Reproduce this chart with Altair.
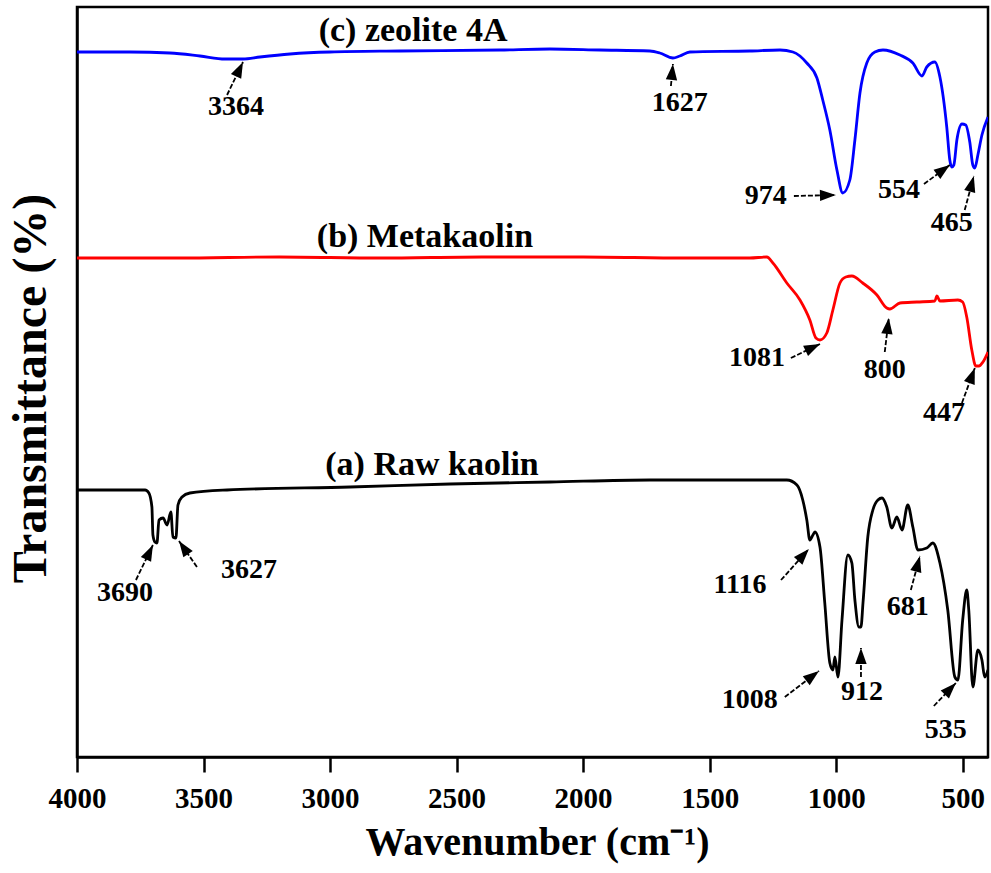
import math
import altair as alt
import pandas as pd

# ---- spectra (wavenumber cm-1, transmittance a.u.) ----
zeo_wn = [4000, 3791, 3633, 3514, 3415, 3344, 3277, 3158, 3000, 2724, 2329, 2131, 1934,
          1736, 1697, 1645, 1618, 1578, 1341, 1222, 1171, 1116, 1076, 1053, 1025, 997,
          974, 946, 926, 906, 879, 847, 815, 748, 697, 661, 642, 610, 590, 563, 551,
          543, 535, 523, 503, 488, 472, 460, 452, 440, 424, 400]
zeo_t = [705, 705, 704, 701, 698, 698, 700, 703, 705, 706, 707, 708, 707,
         706, 704, 699, 701, 705, 706, 707, 705, 694, 679, 657, 627, 587,
         564, 577, 617, 664, 694, 705, 707, 702, 694, 681, 690, 695, 680, 630, 597,
         590, 592, 617, 633, 632, 615, 592, 589, 602, 622, 640]

meta_wn = [4000, 3600, 3200, 2800, 2400, 2000, 1600, 1341, 1274, 1250, 1195, 1143, 1104,
           1080, 1064, 1037, 1013, 985, 962, 938, 895, 839, 800, 788, 748, 681, 610,
           602, 590, 519, 500, 484, 464, 448, 436, 420, 400]
meta_t = [499, 499, 500, 499, 500, 500, 499, 499, 500, 494, 474, 457, 437,
          419, 417, 424, 447, 474, 480, 481, 474, 462, 449, 448, 454, 455, 456,
          461, 456, 457, 455, 440, 407, 391, 391, 395, 405]

kao_wn = [4000, 3731, 3716, 3704, 3700, 3692, 3684, 3676, 3660, 3644, 3629, 3621, 3609,
          3601, 3585, 3554, 3407, 2921, 2526, 2131, 1736, 1195, 1155, 1132, 1116, 1104,
          1092, 1084, 1064, 1045, 1025, 1013, 1005, 993, 977, 954, 938, 926, 910, 902,
          894, 875, 855, 835, 819, 800, 780, 760, 740, 717, 697, 677, 642, 618, 590,
          559, 531, 519, 500, 484, 476, 460, 440, 424, 413, 400]
kao_t = [267, 267, 264, 250, 222, 215, 214, 237, 239, 232, 245, 220, 219,
         252, 260, 264, 267, 270, 273, 275, 277, 277, 272, 257, 237, 217,
         222, 225, 210, 154, 94, 87, 100, 80, 137, 202, 194, 157, 130, 130,
         154, 220, 247, 257, 259, 250, 229, 240, 227, 252, 230, 207, 209, 214, 194,
         147, 80, 77, 137, 167, 147, 70, 107, 97, 80, 87]

series_names = ["(c) zeolite 4A", "(b) Metakaolin", "(a) Raw kaolin"]
series_colors = ["#0000FF", "#FF0000", "#000000"]
label_wn = [2672, 2625, 2597]
label_t = [726, 520, 292]

# ---- peak annotations ----
peak_text = ["3364", "1627", "974", "554", "465", "1081", "800", "447",
             "3690", "3627", "1116", "1008", "912", "681", "535"]
text_wn = [3372, 1618, 1278, 752, 543, 1313, 808, 574, 3810, 3320, 1380, 1341, 898, 717, 567]
text_t = [650, 654, 561, 567, 534, 399, 387, 344, 164, 187, 172, 57, 65, 150, 27]
tail_wn = [3407, 1653, 1167, 653, 492, 1179, 808, 503, 3767, 3526, 1218, 1203, 902, 705, 614]
tail_t = [662, 671, 561, 573, 547, 399, 405, 354, 177, 190, 177, 60, 80, 167, 51]
tip_wn = [3344, 1645, 1001, 551, 456, 1064, 792, 452, 3700, 3597, 1108, 1068, 902, 669, 527]
tip_t = [695, 693, 562, 592, 581, 413, 439, 389, 212, 216, 208, 86, 109, 201, 74]

W, H = 911, 750
WN_MAX, WN_MIN = 4000, 400
T_MIN, T_MAX = 0, 750
FONT = "Liberation Serif"

rows = []
for name, wn, t in [(series_names[0], zeo_wn, zeo_t),
                    (series_names[1], meta_wn, meta_t),
                    (series_names[2], kao_wn, kao_t)]:
    for a, b in zip(wn, t):
        rows.append({"series": name, "wn": a, "t": b})
spec = pd.DataFrame(rows)

labels = pd.DataFrame({"name": series_names, "wn": label_wn, "t": label_t})

px_per_wn = W / (WN_MAX - WN_MIN)
px_per_t = H / (T_MAX - T_MIN)
angles = []
for tw, tt, pw, pt in zip(tail_wn, tail_t, tip_wn, tip_t):
    dx = (tw - pw) * px_per_wn
    dy = -(pt - tt) * px_per_t
    angles.append(math.degrees(math.atan2(dx, -dy)) % 360)

peaks = pd.DataFrame({"txt": peak_text, "wn": text_wn, "t": text_t,
                      "awn": tail_wn, "at": tail_t, "bwn": tip_wn, "bt": tip_t,
                      "ang": angles})

xscale = alt.Scale(domain=[WN_MAX, WN_MIN], nice=False, zero=False)
yscale = alt.Scale(domain=[T_MIN, T_MAX], nice=False, zero=False)

x_axis = alt.Axis(
    title="Wavenumber (cm⁻¹)", values=[4000, 3500, 3000, 2500, 2000, 1500, 1000, 500],
    format="d", grid=False, domainColor="black", domainWidth=2.5, tickColor="black",
    tickWidth=2.5, tickSize=15, labelFont=FONT, labelFontSize=29, labelFontWeight="bold",
    labelColor="black", labelPadding=12, labelFlush=False,
    titleFont=FONT, titleFontSize=40, titleFontWeight="bold", titleColor="black",
    titleX=460, titleY=85, titleBaseline="middle", titleAlign="center",
)
y_axis = alt.Axis(
    title="Transmittance (%)", labels=False, ticks=False, grid=False, domainColor="black",
    domainWidth=2.5, titleFont=FONT, titleFontSize=48, titleFontWeight="bold",
    titleColor="black", titleAngle=270, titleX=-46, titleY=381, titleBaseline="middle",
    titleAlign="center",
)


def X(field):
    return alt.X(field, type="quantitative", scale=xscale, axis=x_axis)


def Y(field):
    return alt.Y(field, type="quantitative", scale=yscale, axis=y_axis)


lines = alt.Chart(spec).mark_line(strokeWidth=2.8, clip=True, interpolate="monotone").encode(
    x=X("wn"),
    y=Y("t"),
    color=alt.Color("series:N", scale=alt.Scale(domain=series_names, range=series_colors),
                    legend=None),
    order=alt.Order("wn:Q", sort="descending"),
)

series_text = alt.Chart(labels).mark_text(
    font=FONT, fontSize=34, fontWeight="bold", color="black", align="center",
    baseline="middle").encode(
    x=X("wn"),
    y=Y("t"),
    text="name:N",
)

peak_labels = alt.Chart(peaks).mark_text(
    font=FONT, fontSize=28, fontWeight="bold", color="black", align="center",
    baseline="middle").encode(
    x=X("wn"),
    y=Y("t"),
    text="txt:N",
)

shafts = alt.Chart(peaks).mark_rule(color="black", strokeWidth=1.8, strokeDash=[5, 2]).encode(
    x=X("awn"),
    y=Y("at"),
    x2="bwn:Q",
    y2="bt:Q",
)

heads = alt.Chart(peaks).mark_point(
    shape="M0,0L-1,2.8L1,2.8Z", size=130, filled=True, color="black", opacity=1,
    strokeWidth=0).encode(
    x=X("bwn"),
    y=Y("bt"),
    angle=alt.Angle("ang:Q", scale=None),
)

chart = alt.layer(lines, series_text, shafts, heads, peak_labels).properties(
    width=W, height=H,
    autosize=alt.AutoSizeParams(type="none"),
    padding={"left": 77, "top": 7, "right": 3, "bottom": 116},
    background="white",
).configure_view(stroke="black", strokeWidth=2.5)

chart.save("out.html", embed_options={"renderer": "svg", "actions": False})
